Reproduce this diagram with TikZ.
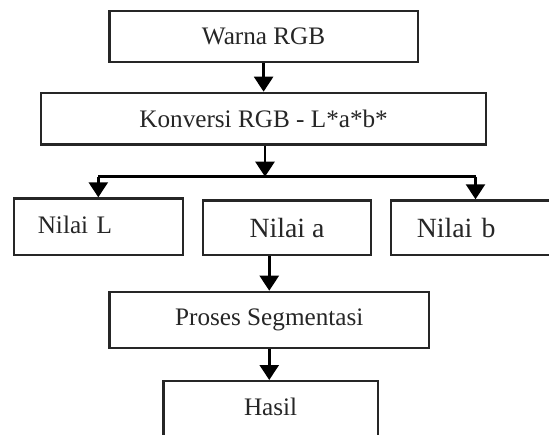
\documentclass[tikz,border=0pt]{standalone}
\usepackage{fontspec}
\setmainfont{Liberation Serif}
\usetikzlibrary{arrows.meta,positioning,calc}
\begin{document}
\begin{tikzpicture}[x=1pt,y=-1pt,
  box/.style={draw=black!85, line width=2.2pt, rectangle, inner sep=0pt, anchor=north west,
              font=\fontsize{25.2}{29}\selectfont, text=black!85},
  bigtxt/.style={font=\fontsize{27.8}{32}\selectfont},
  arr/.style={line width=2.5pt, draw=black, -{Triangle[length=15pt,width=19pt]}},
  ln/.style={line width=2.5pt, draw=black}]
\useasboundingbox (0,0) rectangle (549,434);
\clip (0,0) rectangle (549,434);
\fill[white] (0,0) rectangle (549,434);

\node[box, minimum width=308.4pt, minimum height=50.7pt] (warna) at (108.3,10) {Warna RGB};
\node[box, minimum width=445pt, minimum height=51.6pt] (konv) at (40,91.7) {Konversi RGB - L*a*b*};
\node[box, minimum width=169pt, minimum height=56.7pt, text width=121pt, align=left, inner xsep=24pt,
      text depth=3pt] (nL) at (12.7,197.3) {Nilai L};
\node[box, bigtxt, minimum width=168.3pt, minimum height=54.7pt] (na) at (201.7,199.3) {Nilai a};
\node[box, bigtxt, minimum width=168.8pt, minimum height=54.7pt, text width=117.4pt, align=left,
      inner xsep=25.7pt] (nb) at (390,199.3) {Nilai b};
\node[box, minimum width=319.7pt, minimum height=56pt] (pros) at (108.3,290.7) {Proses Segmentasi};
\node[box, minimum width=214.4pt, minimum height=64pt, text height=20pt, text depth=16pt] (hasil) at (162.3,380) {Hasil};

\coordinate (j) at (265,176.7);

\draw[arr] (warna.south) -- (konv.north);
\draw[arr] (konv.south -| j) -- (j);
\draw[ln] (nL.north |- j) -- (nb.north |- j);
\draw[arr] (nL.north |- j) -- (nL.north);
\draw[arr] (nb.north |- j) -- (nb.north);
\draw[arr] (na.south -| pros.north) -- (pros.north);
\draw[arr] (pros.south) -- (pros.south |- hasil.north);
\end{tikzpicture}
\end{document}
